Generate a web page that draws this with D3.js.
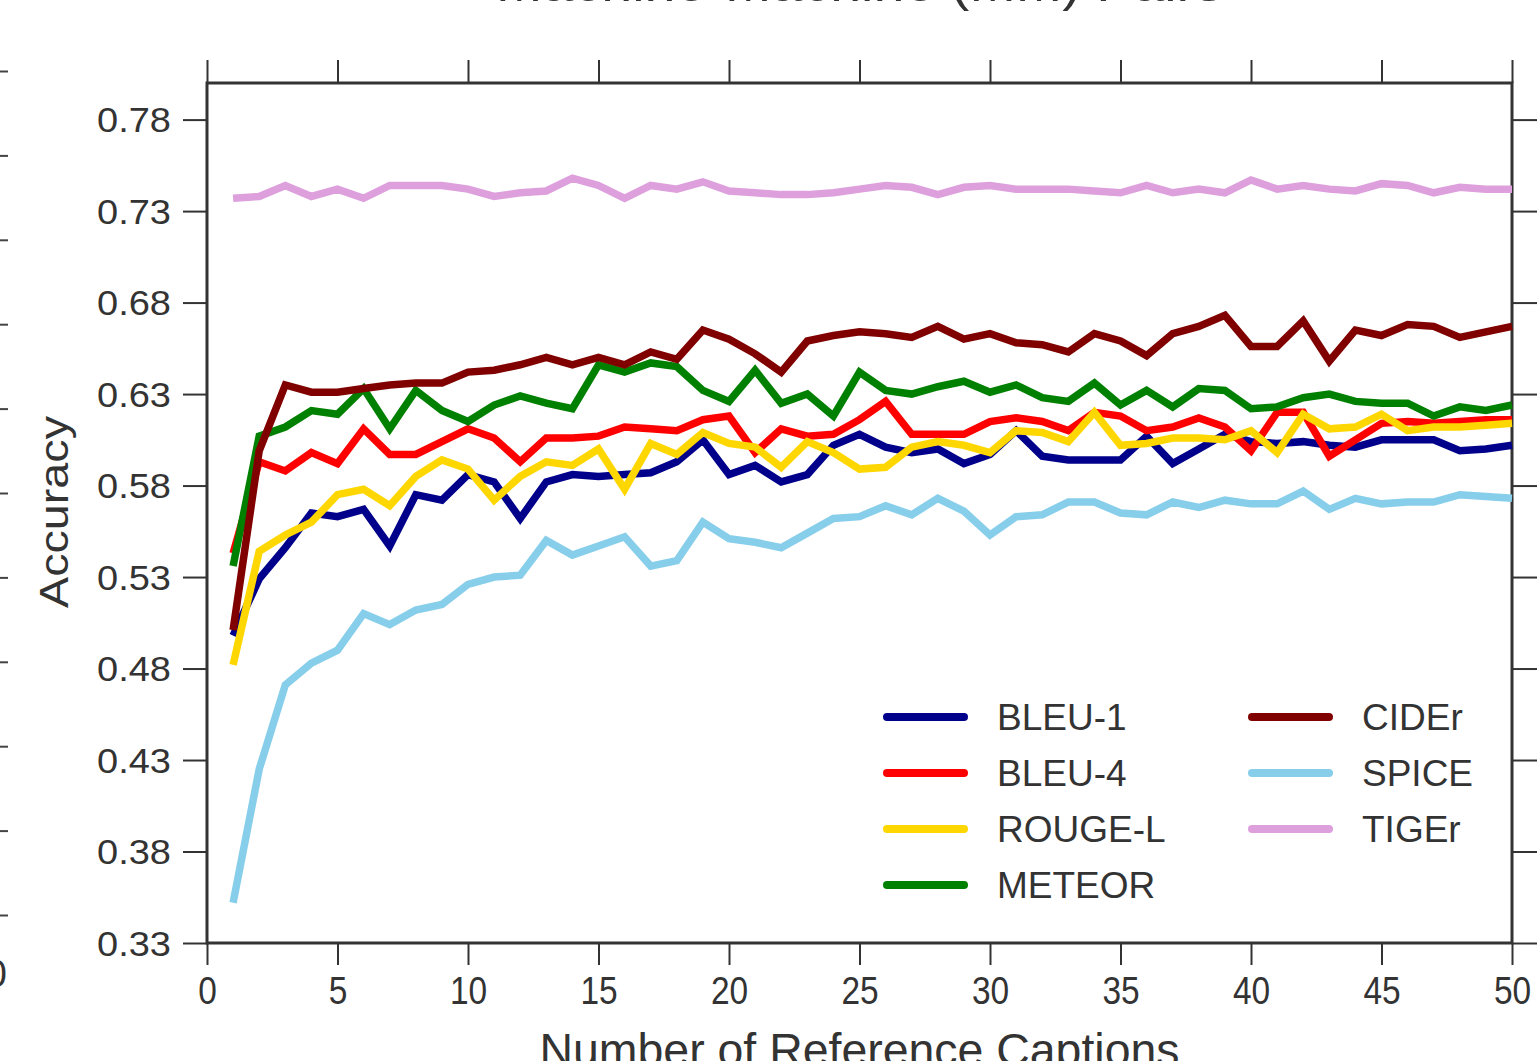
<!DOCTYPE html>
<html>
<head>
<meta charset="utf-8">
<script src="https://cdn.jsdelivr.net/npm/d3@7"></script>
<style>
  html, body { margin: 0; padding: 0; background: #fff; }
  svg { display: block; font-family: "Liberation Sans", Arial, Helvetica, sans-serif; }
  .tick text { fill: #333; }
</style>
</head>
<body>
<svg id="chart" width="1537" height="1061"></svg>
<script>
// number of reference captions (x categories)
const captions = d3.range(1, 51)

const bleu1 = [0.498, 0.529, 0.546, 0.565, 0.563, 0.567, 0.547, 0.575, 0.572, 0.586,
  0.582, 0.562, 0.582, 0.586, 0.585, 0.586, 0.587, 0.593, 0.605, 0.586,
  0.591, 0.582, 0.586, 0.602, 0.608, 0.601, 0.598, 0.600, 0.592, 0.597,
  0.610, 0.596, 0.594, 0.594, 0.594, 0.607, 0.592, 0.600, 0.608, 0.604,
  0.603, 0.604, 0.602, 0.601, 0.605, 0.605, 0.605, 0.599, 0.600, 0.602]
const bleu4 = [0.543, 0.593, 0.588, 0.598, 0.592, 0.611, 0.597, 0.597, 0.604, 0.611,
  0.606, 0.593, 0.606, 0.606, 0.607, 0.612, 0.611, 0.610, 0.616, 0.618,
  0.598, 0.611, 0.607, 0.608, 0.616, 0.626, 0.608, 0.608, 0.608, 0.615,
  0.617, 0.615, 0.610, 0.620, 0.618, 0.610, 0.612, 0.617, 0.612, 0.599,
  0.620, 0.620, 0.596, 0.605, 0.614, 0.615, 0.614, 0.615, 0.616, 0.616]
const rougeL = [0.482, 0.544, 0.553, 0.560, 0.575, 0.578, 0.569, 0.585, 0.594, 0.589,
  0.572, 0.585, 0.593, 0.591, 0.600, 0.578, 0.603, 0.597, 0.609, 0.603,
  0.601, 0.590, 0.604, 0.598, 0.589, 0.590, 0.601, 0.604, 0.602, 0.598,
  0.610, 0.609, 0.604, 0.620, 0.602, 0.603, 0.606, 0.606, 0.605, 0.610,
  0.598, 0.619, 0.611, 0.612, 0.619, 0.610, 0.612, 0.612, 0.613, 0.614]
const meteor = [0.536, 0.607, 0.612, 0.621, 0.619, 0.633, 0.611, 0.632, 0.621, 0.615,
  0.624, 0.629, 0.625, 0.622, 0.646, 0.642, 0.647, 0.645, 0.632, 0.626,
  0.643, 0.625, 0.630, 0.618, 0.642, 0.632, 0.630, 0.634, 0.637, 0.631,
  0.635, 0.628, 0.626, 0.636, 0.624, 0.632, 0.623, 0.633, 0.632, 0.622,
  0.623, 0.628, 0.630, 0.626, 0.625, 0.625, 0.618, 0.623, 0.621, 0.624]
const cider = [0.501, 0.599, 0.635, 0.631, 0.631, 0.633, 0.635, 0.636, 0.636, 0.642,
  0.643, 0.646, 0.650, 0.646, 0.650, 0.646, 0.653, 0.649, 0.665, 0.660,
  0.652, 0.642, 0.659, 0.662, 0.664, 0.663, 0.661, 0.667, 0.660, 0.663,
  0.658, 0.657, 0.653, 0.663, 0.659, 0.651, 0.663, 0.667, 0.673, 0.656,
  0.656, 0.670, 0.648, 0.665, 0.662, 0.668, 0.667, 0.661, 0.664, 0.667]
const spice = [0.352, 0.425, 0.471, 0.483, 0.490, 0.510, 0.504, 0.512, 0.515, 0.526,
  0.530, 0.531, 0.550, 0.542, 0.547, 0.552, 0.536, 0.539, 0.560, 0.551,
  0.549, 0.546, 0.554, 0.562, 0.563, 0.569, 0.564, 0.573, 0.566, 0.553,
  0.563, 0.564, 0.571, 0.571, 0.565, 0.564, 0.571, 0.568, 0.572, 0.570,
  0.570, 0.577, 0.567, 0.573, 0.570, 0.571, 0.571, 0.575, 0.574, 0.573]
const tiger = [0.737, 0.738, 0.744, 0.738, 0.742, 0.737, 0.744, 0.744, 0.744, 0.742,
  0.738, 0.740, 0.741, 0.748, 0.744, 0.737, 0.744, 0.742, 0.746, 0.741,
  0.740, 0.739, 0.739, 0.740, 0.742, 0.744, 0.743, 0.739, 0.743, 0.744,
  0.742, 0.742, 0.742, 0.741, 0.740, 0.744, 0.740, 0.742, 0.740, 0.747,
  0.742, 0.744, 0.742, 0.741, 0.745, 0.744, 0.740, 0.743, 0.742, 0.742]

const metricNames = ['BLEU-1', 'BLEU-4', 'ROUGE-L', 'METEOR', 'CIDEr', 'SPICE', 'TIGEr']
const metricColors = ['#00008b', '#ff0000', '#ffd700', '#008000', '#800000', '#87ceeb', '#dda0dd']
const metricValues = [bleu1, bleu4, rougeL, meteor, cider, spice, tiger]

const xTicks = [0, 5, 10, 15, 20, 25, 30, 35, 40, 45, 50]
const yTicks = [0.33, 0.38, 0.43, 0.48, 0.53, 0.58, 0.63, 0.68, 0.73, 0.78]

const svg = d3.select('#chart')
const box = { left: 207, right: 1512, top: 83, bottom: 943 }

const x = d3.scaleLinear().domain([0, 50]).range([box.left, box.right])
const y = d3.scaleLinear().domain([0.33, 0.80]).range([box.bottom, box.top])

// cut-off title of this panel
svg.append('text')
    .attr('x', (box.left + box.right) / 2)
    .attr('y', 1)
    .attr('text-anchor', 'middle')
    .attr('font-size', 50)
    .attr('fill', '#333')
    .attr('textLength', 727)
    .attr('lengthAdjust', 'spacingAndGlyphs')
    .text('Machine-Machine (MM) Pairs')

// right axis of the neighbouring panel, cut at the left edge
const neighbour = d3.scaleLinear().domain([0, 10]).range([915, 71])
svg.append('g')
    .attr('transform', 'translate(-1,0)')
    .call(d3.axisRight(neighbour).ticks(10).tickSize(9).tickFormat(''))
    .call(g => g.select('.domain').remove())
    .call(g => g.selectAll('line').attr('stroke', '#444').attr('stroke-width', 2))
svg.append('text')
    .attr('x', 7).attr('y', 987)
    .attr('text-anchor', 'end')
    .attr('font-size', 38)
    .attr('fill', '#333')
    .text('50')

// axes on all four sides, ticks pointing outwards
const styleAxis = g => {
    g.select('.domain').remove()
    g.selectAll('.tick line').attr('stroke', '#333').attr('stroke-width', 2)
}

svg.append('g')
    .attr('transform', `translate(${box.left},0)`)
    .call(d3.axisLeft(y).tickValues(yTicks).tickSize(24).tickPadding(12).tickFormat(d3.format('.2f')))
    .call(styleAxis)
    .call(g => g.selectAll('text')
        .attr('font-size', 35)
        .attr('dy', '0.35em')
        .attr('textLength', 74)
        .attr('lengthAdjust', 'spacingAndGlyphs'))

svg.append('g')
    .attr('transform', `translate(${box.right},0)`)
    .call(d3.axisRight(y).tickValues(yTicks).tickSize(26).tickFormat(''))
    .call(styleAxis)

svg.append('g')
    .attr('transform', `translate(0,${box.top})`)
    .call(d3.axisTop(x).tickValues(xTicks).tickSize(23).tickFormat(''))
    .call(styleAxis)

svg.append('g')
    .attr('class', 'x-bottom')
    .attr('transform', `translate(0,${box.bottom})`)
    .call(d3.axisBottom(x).tickValues(xTicks).tickSize(22).tickPadding(12))
    .call(styleAxis)
    .call(g => g.selectAll('text')
        .attr('font-size', 38)
        .attr('dy', '0.71em')
        .attr('transform', 'scale(0.88,1)'))

// frame
svg.append('rect')
    .attr('x', box.left).attr('y', box.top)
    .attr('width', box.right - box.left).attr('height', box.bottom - box.top)
    .attr('fill', 'none')
    .attr('stroke', '#333')
    .attr('stroke-width', 3)

// axis titles
svg.append('text')
    .attr('transform', `translate(68,${(416 + 608) / 2}) rotate(-90)`)
    .attr('text-anchor', 'middle')
    .attr('font-size', 40)
    .attr('fill', '#333')
    .attr('textLength', 192)
    .attr('lengthAdjust', 'spacingAndGlyphs')
    .text('Accuracy')

svg.append('text')
    .attr('x', (box.left + box.right) / 2)
    .attr('y', 1066)
    .attr('text-anchor', 'middle')
    .attr('font-size', 46)
    .attr('fill', '#333')
    .attr('textLength', 640)
    .attr('lengthAdjust', 'spacingAndGlyphs')
    .text('Number of Reference Captions')

// series
const line = d3.line()
    .x((d, i) => x(captions[i]))
    .y(d => y(d))

const plot = svg.append('g')
metricValues.forEach((values, k) => {
    plot.append('path')
        .datum(values)
        .attr('d', line)
        .attr('fill', 'none')
        .attr('stroke', metricColors[k])
        .attr('stroke-width', 7.5)
        .attr('stroke-linejoin', 'miter')
})

// legend, two columns
const legendCols = [{ lineX: 887, textX: 997 }, { lineX: 1252, textX: 1362 }]
const legendRows = [717, 773, 829, 885]
const legend = svg.append('g')
metricNames.forEach((name, k) => {
    const col = legendCols[k < 4 ? 0 : 1]
    const rowY = legendRows[k < 4 ? k : k - 4]
    legend.append('line')
        .attr('x1', col.lineX).attr('x2', col.lineX + 77)
        .attr('y1', rowY).attr('y2', rowY)
        .attr('stroke', metricColors[k])
        .attr('stroke-width', 8)
        .attr('stroke-linecap', 'round')
    legend.append('text')
        .attr('x', col.textX).attr('y', rowY)
        .attr('dy', '0.36em')
        .attr('font-size', 37)
        .attr('fill', '#333')
        .text(name)
})
</script>
</body>
</html>
